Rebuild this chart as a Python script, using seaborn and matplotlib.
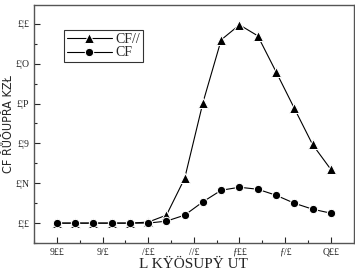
import matplotlib
matplotlib.use("Agg")
import matplotlib.pyplot as plt
import seaborn as sns
import pandas as pd
from matplotlib.ticker import MultipleLocator

# data
temps = [300, 320, 340, 360, 380, 400, 420, 440, 460, 480, 500, 520, 540, 560, 580, 600]
cf_par = [0.0, 0.0, 0.0, 0.0, 0.0, 0.005, 0.04, 0.225, 0.605, 0.92, 0.995, 0.94, 0.76, 0.577, 0.395, 0.27]
cf = [0.0, 0.0, 0.0, 0.0, 0.0, 0.0, 0.01, 0.04, 0.107, 0.165, 0.18, 0.17, 0.14, 0.10, 0.07, 0.05]

x_ticks = [300, 350, 400, 450, 500, 550, 600]
x_ticklabels = ["9££", "9/£", "/££", "//£", "ƒ££", "ƒ/£", "Q££"]
y_ticks = [0.0, 0.2, 0.4, 0.6, 0.8, 1.0]
y_ticklabels = ["£¦£", "£¦N", "£¦9", "£¦P", "£¦O", "£¦£"]

df = pd.DataFrame({"T": temps + temps,
                   "v": cf_par + cf,
                   "s": ["CF//"] * len(temps) + ["CF"] * len(temps)})

sns.set_style("ticks")
plt.rcParams['font.family'] = ['Liberation Serif', 'DejaVu Serif']

fig = plt.figure(figsize=(3.55, 2.74), dpi=100)
ax = fig.add_axes([0.096, 0.113, 0.9, 0.869])

sns.lineplot(data=df, x="T", y="v", hue="s", style="s",
             palette={"CF//": "black", "CF": "black"},
             markers={"CF//": "^", "CF": "o"}, dashes=False,
             markersize=6, linewidth=0.8, ax=ax, legend=True)
for ln in ax.lines:
    if ln.get_marker() == "^":
        ln.set_markersize(7)

ax.set_xlim(275, 625)
ax.set_ylim(-0.1, 1.095)
ax.set_xticks(x_ticks)
ax.set_xticklabels(x_ticklabels, fontsize=7)
ax.set_yticks(y_ticks)
ax.set_yticklabels(y_ticklabels, fontsize=7)
ax.xaxis.set_minor_locator(MultipleLocator(25))
ax.yaxis.set_minor_locator(MultipleLocator(0.1))
ax.tick_params(which="major", direction="in", length=4, width=0.8)
ax.tick_params(which="minor", direction="in", length=2, width=0.8)
for sp in ax.spines.values():
    sp.set_linewidth(1.0)
    sp.set_color("#555555")

ax.set_xlabel("L KŸÖSUPŸ UT", fontsize=11, labelpad=1)
ax.set_ylabel("CF ŘŮŎUPŘA KZŁ", fontsize=9,
              family=['DejaVu Sans'], fontstretch='condensed')
ax.yaxis.set_label_coords(-0.06, 0.5)

leg = ax.legend(loc="upper left", bbox_to_anchor=(0.095, 0.895), frameon=True,
                fancybox=False, fontsize=10, handlelength=3.2,
                borderpad=0.2, labelspacing=0.05, handletextpad=0.3,
                borderaxespad=0.0)
leg.get_frame().set_edgecolor("black")
leg.get_frame().set_linewidth(0.8)

fig.savefig("out.png", dpi=100)
